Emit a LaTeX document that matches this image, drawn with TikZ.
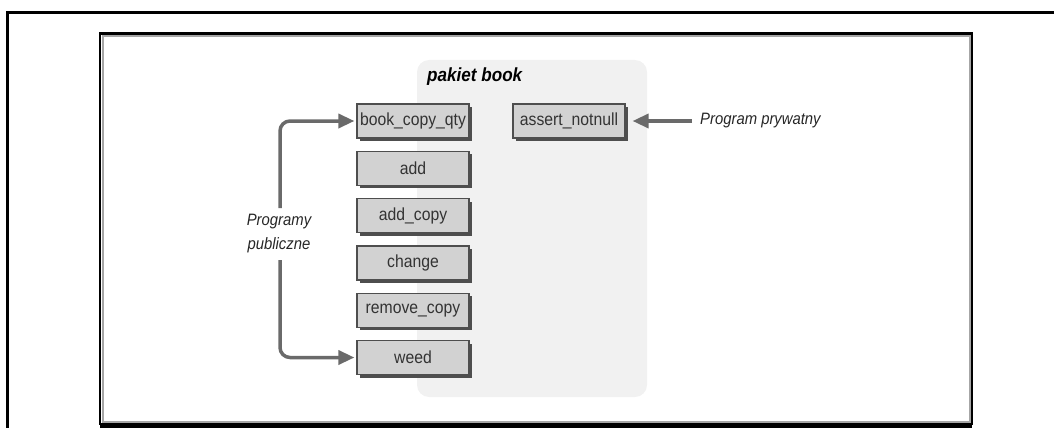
\documentclass[tikz,border=0pt]{standalone}
\usepackage{fontspec}
\setmainfont[FakeStretch=0.9]{Liberation Sans}
\usetikzlibrary{arrows.meta,shadows}
\definecolor{pkgfill}{HTML}{F1F1F1}
\definecolor{boxfill}{HTML}{D2D2D2}
\definecolor{boxedge}{HTML}{4E4E4E}
\definecolor{arrgray}{HTML}{6A6A6A}
\begin{document}
\begin{tikzpicture}[x=1pt,y=-1pt,
    prog/.style={rectangle,draw=boxedge,line width=1.2pt,fill=boxfill,text=black!80,
      minimum width=112pt,minimum height=34pt,inner sep=0pt,
      font=\fontsize{17.5}{20}\selectfont,
      drop shadow={shadow xshift=3pt,shadow yshift=-3pt,fill=boxedge,opacity=1}},
    call/.style={draw=arrgray,line width=3.5pt,-{Triangle[length=16pt,width=14pt]}},
    note/.style={font=\fontsize{16.5}{24}\selectfont\itshape,text=black!85,inner sep=0pt}]
  \useasboundingbox (0,0) rectangle (1054,428);
  % frames
  \draw[line width=3pt] (1054,12.5) -- (7,12.5) -- (7,428);
  \draw[black!35,line width=2pt] (102.5,36) rectangle (969.5,422);
  \draw[line width=2.5pt] (100,33.5) rectangle (972,424);
  \draw[line width=5pt] (100,425.5) -- (972,425.5);
  % package
  \fill[pkgfill,rounded corners=12pt] (417,60) rectangle (647,397);
  \node[anchor=west,inner sep=0pt,font=\fontsize{19}{22}\selectfont\bfseries\itshape] (T0) at (427,77) {pakiet book};
  \node[prog] (P1) at (413,121) {book\_copy\_qty};
  \node[prog] (P2) at (413,168.3) {add};
  \node[prog] (P3) at (413,215.6) {add\_copy};
  \node[prog] (P4) at (413,262.9) {change};
  \node[prog] (P5) at (413,310.2) {remove\_copy};
  \node[prog] (P6) at (413,357.5) {weed};
  \node[prog] (A1) at (569,121) {assert\_notnull};
  % callers
  \node[note,align=center] (L1) at (279,234) {Programy\\publiczne};
  \coordinate (C1) at (280,208);
  \coordinate (C2) at (280,260);
  \draw[call,rounded corners=10pt,shorten >=2pt] (C1) |- (P1.west);
  \draw[call,rounded corners=10pt,shorten >=2pt] (C2) |- (P6.west);
  \node[note,anchor=west] (L2) at (700,121) {Program prywatny};
  \draw[call,shorten <=8pt,shorten >=7pt] (L2.west) -- (A1.east);
\end{tikzpicture}
\end{document}
